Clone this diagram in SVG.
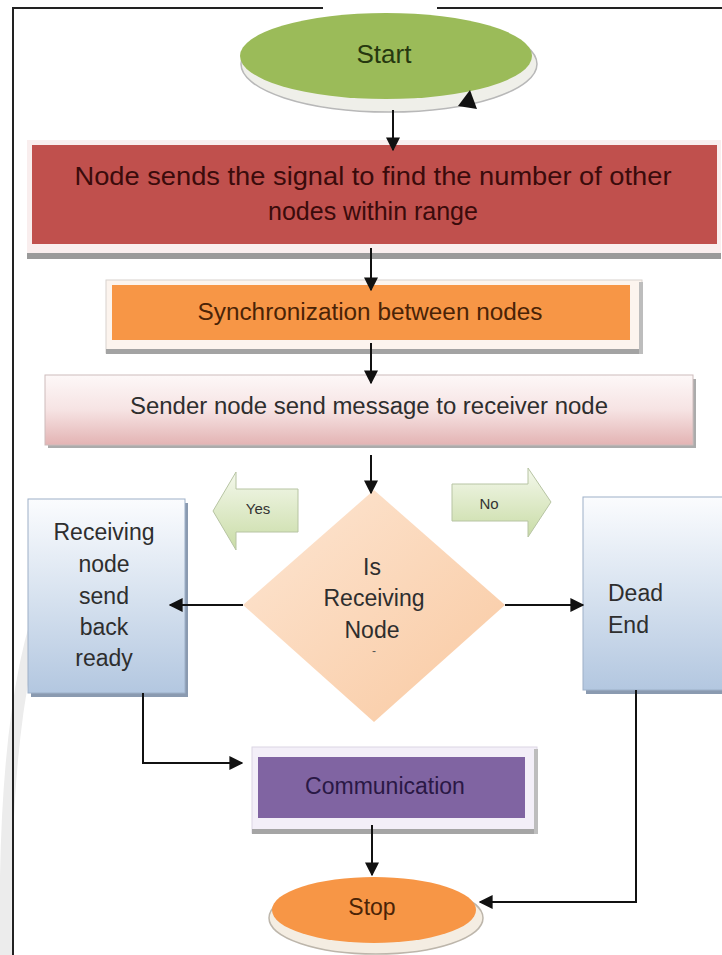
<svg xmlns="http://www.w3.org/2000/svg" width="722" height="955" viewBox="0 0 722 955">
<style>
.t{font-family:"Liberation Sans",Arial,sans-serif;text-anchor:middle;dominant-baseline:central}
.c{stroke:#111;stroke-width:2;fill:none}
.frame{stroke:#222;stroke-width:2;fill:none}
</style>
<defs>
<marker id="ah" viewBox="0 0 10 10" refX="9" refY="5" markerWidth="14" markerHeight="14" markerUnits="userSpaceOnUse" orient="auto">
<path d="M0,0 L10,5 L0,10 z" fill="#111"/>
</marker>
<linearGradient id="gPink" x1="0" y1="0" x2="0" y2="1">
<stop offset="0" stop-color="#fdf8f8"/><stop offset="0.5" stop-color="#f6e3e3"/><stop offset="1" stop-color="#e3b3b3"/>
</linearGradient>
<linearGradient id="gBlue" x1="0" y1="0" x2="0" y2="1">
<stop offset="0" stop-color="#fbfcfe"/><stop offset="0.45" stop-color="#dbe5f1"/><stop offset="1" stop-color="#b3c7e0"/>
</linearGradient>
<linearGradient id="gPeach" x1="0" y1="0" x2="1" y2="1">
<stop offset="0" stop-color="#fde6d3"/><stop offset="1" stop-color="#f9c9a1"/>
</linearGradient>
<linearGradient id="gGreen" x1="0" y1="0" x2="0" y2="1">
<stop offset="0" stop-color="#f4f8ec"/><stop offset="1" stop-color="#c9dca6"/>
</linearGradient>
</defs>

<rect width="722" height="955" fill="#ffffff"/>
<path d="M48 588 Q2 700 6 955" stroke="#ececec" stroke-width="12" fill="none"/>
<g id="frame">
<path class="frame" d="M13 955 L13 8 L323 8"/>
<path class="frame" d="M437 8 L722 8"/>
</g>

<g id="start">
<ellipse cx="389" cy="64" rx="148" ry="48" fill="#efefe9" stroke="#b8b8b8" stroke-width="1.5"/>
<ellipse cx="386" cy="56" rx="146" ry="43" fill="#9bbb59"/>
<polygon points="458,106 477,109 470,90" fill="#111"/>
<text class="t" x="384" y="54" font-size="26" fill="#26380f">Start</text>
</g>

<g id="signal">
<rect x="27" y="140" width="694" height="118" fill="#f9eeee"/>
<rect x="27" y="253" width="694" height="6" fill="#9a9a9a"/>
<rect x="32" y="145" width="685" height="99" fill="#c0504d"/>
<text class="t" x="373" y="176" font-size="25" fill="#3a0b0b" textLength="597" lengthAdjust="spacingAndGlyphs">Node sends the signal to find the number of other</text>
<text class="t" x="373" y="211" font-size="25" fill="#3a0b0b">nodes within range</text>
</g>

<g id="sync">
<rect x="106" y="280" width="536" height="73" fill="#fcf4ee" stroke="#d8d2ce" stroke-width="1"/>
<rect x="106" y="349" width="536" height="5" fill="#a3a3a3"/>
<rect x="639" y="282" width="4" height="72" fill="#bdbdbd"/>
<rect x="112" y="285" width="518" height="55" fill="#f79646"/>
<text class="t" x="370" y="312" font-size="23" fill="#4a2306" textLength="345" lengthAdjust="spacingAndGlyphs">Synchronization between nodes</text>
</g>

<g id="sender">
<rect x="48" y="379" width="648" height="69" fill="#ababab"/>
<rect x="45" y="375" width="648" height="70" fill="url(#gPink)" stroke="#cdbcbc" stroke-width="1"/>
<text class="t" x="369" y="406" font-size="23" fill="#2e2e2e" textLength="478" lengthAdjust="spacingAndGlyphs">Sender node send message to receiver node</text>
</g>

<g id="decision">
<polygon points="374,490 505,605 374,722 243,605" fill="url(#gPeach)"/>
<text class="t" x="372" y="567" font-size="23" fill="#2e2e2e">Is</text>
<text class="t" x="374" y="598" font-size="23" fill="#2e2e2e">Receiving</text>
<text class="t" x="372" y="630" font-size="23" fill="#2e2e2e">Node</text>
<text class="t" x="374" y="651" font-size="12" fill="#555">-</text>
</g>

<g id="yes">
<polygon points="213,511 236,472 236,489 298,489 298,532 236,532 236,550" fill="url(#gGreen)" stroke="#b7c4a3" stroke-width="1"/>
<text class="t" x="258" y="508" font-size="15" fill="#333">Yes</text>
</g>

<g id="no">
<polygon points="452,484 528,484 528,468 551,502 528,537 528,521 452,521" fill="url(#gGreen)" stroke="#b7c4a3" stroke-width="1"/>
<text class="t" x="489" y="503" font-size="15" fill="#333">No</text>
</g>

<g id="receiving">
<rect x="31" y="503" width="157" height="194" fill="#8a9ab0"/>
<rect x="28" y="499" width="157" height="194" fill="url(#gBlue)" stroke="#9db0c8" stroke-width="1"/>
<text class="t" x="104" y="532" font-size="23" fill="#2e2e2e">Receiving</text>
<text class="t" x="104" y="564" font-size="23" fill="#2e2e2e">node</text>
<text class="t" x="104" y="596" font-size="23" fill="#2e2e2e">send</text>
<text class="t" x="104" y="627" font-size="23" fill="#2e2e2e">back</text>
<text class="t" x="104" y="658" font-size="23" fill="#2e2e2e">ready</text>
</g>

<g id="deadend">
<rect x="586" y="501" width="145" height="193" fill="#8a9ab0"/>
<rect x="583" y="497" width="145" height="193" fill="url(#gBlue)" stroke="#9db0c8" stroke-width="1"/>
<text class="t" x="608" y="593" font-size="23" fill="#2e2e2e" style="text-anchor:start">Dead</text>
<text class="t" x="608" y="625" font-size="23" fill="#2e2e2e" style="text-anchor:start">End</text>
</g>

<g id="communication">
<rect x="252" y="747" width="285" height="86" fill="#f3eff8" stroke="#dcd6e4" stroke-width="1"/>
<rect x="252" y="829" width="285" height="5" fill="#a5a5a5"/>
<rect x="534" y="749" width="4" height="85" fill="#bdbdbd"/>
<rect x="258" y="757" width="267" height="61" fill="#8064a2"/>
<text class="t" x="385" y="786" font-size="23" fill="#2a1845">Communication</text>
</g>

<g id="stop">
<ellipse cx="376" cy="918" rx="107" ry="36" fill="#f4ede2" stroke="#bdb6ab" stroke-width="1.5"/>
<ellipse cx="374" cy="910" rx="102" ry="33" fill="#f79646"/>
<text class="t" x="372" y="907" font-size="23" fill="#4a2306">Stop</text>
</g>

<g id="connectors">
<path class="c" d="M393 110 L393 150" marker-end="url(#ah)"/>
<path class="c" d="M371 248 L371 290" marker-end="url(#ah)"/>
<path class="c" d="M371 343 L371 383" marker-end="url(#ah)"/>
<path class="c" d="M371 455 L371 493" marker-end="url(#ah)"/>
<path class="c" d="M243 605 L170 605" marker-end="url(#ah)"/>
<path class="c" d="M505 605 L583 605" marker-end="url(#ah)"/>
<path class="c" d="M143 693 L143 763 L242 763" marker-end="url(#ah)"/>
<path class="c" d="M372 825 L372 875" marker-end="url(#ah)"/>
<path class="c" d="M636 690 L636 902 L480 902" marker-end="url(#ah)"/>
</g>
</svg>
